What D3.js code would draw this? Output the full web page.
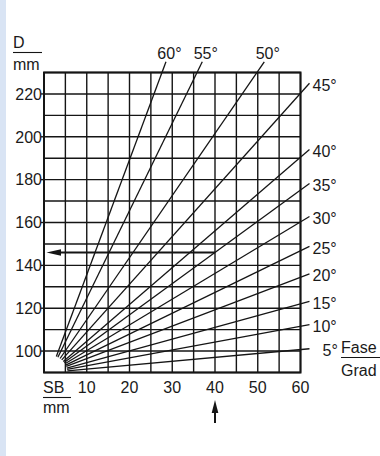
<!DOCTYPE html>
<html><head><meta charset="utf-8">
<script src="https://cdn.jsdelivr.net/npm/d3@7"></script>
<style>
html,body{margin:0;padding:0;background:#fff;}
svg{display:block;}
text{font-family:"Liberation Sans",Arial,Helvetica,sans-serif;fill:#1a1a1a;}
</style></head>
<body><svg id="c" width="380" height="456"></svg>
<script>
// ---- data ----
const angles   = [5, 10, 15, 20, 25, 30, 35, 40, 45, 50, 55, 60];
const endSB    = [60, 60, 60, 60, 60, 60, 60, 60, 60, 49.8, 35.8, 27.6];
const endD     = [100.7, 111.6, 122, 134.4, 146.8, 160.3, 175.1, 190.5, 220.3, 230, 230, 230];
const originPt = [1.5, 90];          // common start (SB, D) of the fan
const yTicks   = [100, 120, 140, 160, 180, 200, 220];
const xTicks   = [10, 20, 30, 40, 50, 60];
const xGrid    = d3.range(0, 61, 5);
const yGrid    = d3.range(90, 231, 10);
const readOut  = [40, 146];          // example: SB = 40 mm, 35° -> D ≈ 146 mm

const svg = d3.select("#c");
// light blue strip at the left edge
svg.append("rect").attr("x",0).attr("y",0).attr("width",6).attr("height",456).attr("fill","#d9e4f4");

const x = d3.scaleLinear().domain([0, 60]).range([44, 300.5]);
const y = d3.scaleLinear().domain([90, 230]).range([372.5, 72.5]);
const ink = "#151515";

const g = svg.append("g");
// grid
g.selectAll(".vg").data(xGrid).join("line")
  .attr("x1", d=>x(d)).attr("x2", d=>x(d)).attr("y1", y(90)).attr("y2", y(230))
  .attr("stroke", ink).attr("stroke-width", 1.4);
g.selectAll(".hg").data(yGrid).join("line")
  .attr("x1", x(0)).attr("x2", x(60)).attr("y1", d=>y(d)).attr("y2", d=>y(d))
  .attr("stroke", ink).attr("stroke-width", 1.4);
// frame
g.append("rect").attr("x", x(0)).attr("y", y(230)).attr("width", x(60)-x(0)).attr("height", y(90)-y(230))
  .attr("fill","none").attr("stroke", ink).attr("stroke-width", 2);

// y ticks + labels
g.selectAll(".yt").data(yTicks).join("line")
  .attr("x1", x(0)-3).attr("x2", x(0)).attr("y1", d=>y(d)).attr("y2", d=>y(d))
  .attr("stroke", ink).attr("stroke-width", 1.4);
g.selectAll(".yl").data(yTicks).join("text")
  .attr("x", x(0)-2).attr("y", d=>y(d)).attr("dy","0.36em").attr("text-anchor","end")
  .attr("font-size", 16).text(d=>d);
// x labels
g.selectAll(".xl").data(xTicks).join("text")
  .attr("x", d=>x(d)).attr("y", 393).attr("text-anchor","middle")
  .attr("font-size", 16).text(d=>d);

// fan lines
const ox = x(originPt[0]), oy = y(originPt[1]);
const startR = 17;
angles.forEach((a, i) => {
  const ex = x(endSB[i]), ey = y(endD[i]);
  const dx = ex - ox, dy = ey - oy, L = Math.hypot(dx, dy);
  const ux = dx / L, uy = dy / L;
  const sx = ox + ux * startR, sy = oy + uy * startR;
  // extension beyond the frame
  let tx, ty;
  if (endSB[i] >= 60) {
    const sbExt = 62.1;
    const t = (x(sbExt) - ox) / dx;
    tx = ox + dx * t; ty = oy + dy * t;
  } else {
    const dExt = 235;
    const t = (y(dExt) - oy) / dy;
    tx = ox + dx * t; ty = oy + dy * t;
  }
  g.append("line").attr("x1", sx).attr("y1", sy).attr("x2", tx).attr("y2", ty)
    .attr("stroke", ink).attr("stroke-width", 1.3);
  if (endSB[i] >= 60) {
    g.append("text").attr("x", x(60) + (a === 5 ? 22 : 12)).attr("y", ty + 1.5).attr("dy","0.36em")
      .attr("font-size", 16).text(a + "°");
  } else {
    g.append("text").attr("x", tx + 3.5).attr("y", ty - 3).attr("text-anchor","middle")
      .attr("font-size", 16).text(a + "°");
  }
});

// read-out arrows
const rx = x(readOut[0]), ry = y(readOut[1]);
g.append("line").attr("x1", rx).attr("x2", x(0)+10).attr("y1", ry).attr("y2", ry)
  .attr("stroke", ink).attr("stroke-width", 2);
g.append("path").attr("d", `M${x(0)+2.5},${ry} L${x(0)+17},${ry-3.3} L${x(0)+17},${ry+3.3} Z`).attr("fill", ink);
g.append("line").attr("x1", rx).attr("x2", rx).attr("y1", 423).attr("y2", 408)
  .attr("stroke", ink).attr("stroke-width", 2);
g.append("path").attr("d", `M${rx},400 L${rx-3.3},413 L${rx+3.3},413 Z`).attr("fill", ink);

// axis titles
function frac(xp, top, bottom, yTop, yBot, w) {
  svg.append("text").attr("x", xp).attr("y", yTop).attr("font-size", 16).text(top);
  svg.append("line").attr("x1", xp).attr("x2", xp + w).attr("y1", yTop + 4.5).attr("y2", yTop + 4.5)
    .attr("stroke", ink).attr("stroke-width", 1.1);
  svg.append("text").attr("x", xp).attr("y", yBot).attr("font-size", 16).text(bottom);
}
frac(13, "D", "mm", 48, 70, 29);
frac(43, "SB", "mm", 393, 413, 28);
frac(341, "Fase", "Grad", 353, 376, 40);
</script></body></html>
